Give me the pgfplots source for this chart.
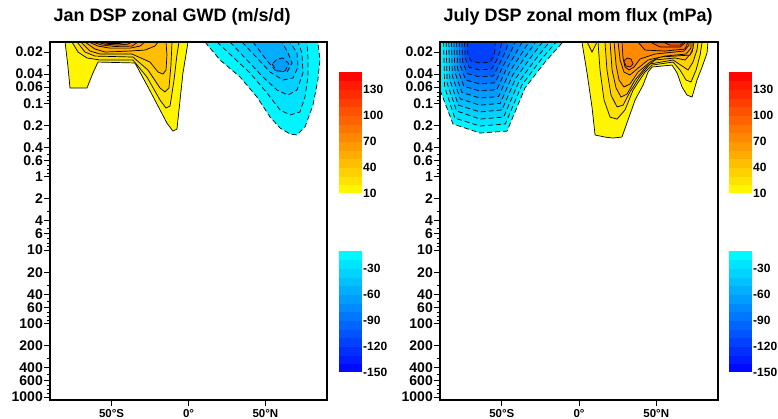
\documentclass[border=0pt]{standalone}
\usepackage{fontspec}
\setmainfont{Liberation Sans}
\usepackage{pgfplots}
\pgfplotsset{compat=1.18}

\tikzset{
  poscont/.style={draw=black, line width=0.7pt},
  negcont/.style={draw=black, line width=0.7pt, dash pattern=on 5pt off 3pt},
}

\begin{document}
\begin{tikzpicture}
\path[use as bounding box] (0pt,0pt) rectangle (778pt,419pt);

%% ---------------- January GWD ----------------
\begin{axis}[at={(50pt,19pt)}, anchor=south west,
    scale only axis, width=277pt, height=358pt,
    xmin=-90, xmax=90,
    ymode=log, ymin=0.0146, ymax=1100, y dir=reverse,
    xtick={-50,0,50}, xticklabels={50°S,0°,50°N},
    ytick={0.02,0.04,0.06,0.1,0.2,0.4,0.6,1,2,4,6,10,20,40,60,100,200,400,600,1000},
    yticklabels={0.02,0.04,0.06,0.1,0.2,0.4,0.6,1,2,4,6,10,20,40,60,100,200,400,600,1000},
    minor ytick={0.03,0.05,0.07,0.08,0.09,0.3,0.5,0.7,0.8,0.9,3,5,7,8,9,30,50,70,80,90,300,500,700,800,900},
    tick align=outside, tick pos=left,
    major tick length=6pt, minor tick length=3.5pt,
    tick style={black, line width=0.9pt},
    axis line style={line width=1.2pt},
    axis on top,
    xticklabel style={font=\bfseries\fontsize{11.5}{11.5}\selectfont},
    yticklabel style={font=\bfseries\fontsize{14}{14}\selectfont, inner sep=1pt},
    title style={at={(0,1)}, anchor=base west, yshift=14pt,
                 font=\bfseries\fontsize{18}{18}\selectfont},
    title={Jan DSP zonal GWD (m/s/d)}]

  % westward drag (dashed)
  \addplot[negcont, fill=blue!4!cyan] coordinates {(10.7,0.0146)(20.5,0.0257)(33.5,0.0438)(44.5,0.0821)(53.0,0.154)(59.5,0.217)(66.0,0.262)(70.5,0.270)(75.7,0.210)(80.9,0.106)(84.1,0.0481)(85.4,0.0257)(84.1,0.0146)} -- cycle;
  \addplot[negcont, fill=blue!11!cyan] coordinates {(18.5,0.0146)(28.9,0.0234)(40.0,0.0386)(51.0,0.0724)(59.5,0.123)(66.0,0.144)(72.4,0.131)(75.7,0.0821)(77.6,0.0438)(77.6,0.0234)(77.0,0.0146)} -- cycle;
  \addplot[negcont, fill=blue!18!cyan] coordinates {(27.0,0.0146)(38.0,0.0257)(48.4,0.0438)(57.5,0.0659)(64.7,0.0771)(70.5,0.0659)(74.4,0.0386)(73.7,0.0206)(71.2,0.0146)} -- cycle;
  \addplot[negcont, fill=blue!25!cyan] coordinates {(34.8,0.0146)(44.5,0.0241)(53.0,0.0375)(61.4,0.0481)(67.9,0.0452)(71.2,0.0320)(70.5,0.0206)(66.0,0.0146)} -- cycle;
  \addplot[negcont, fill=blue!32!cyan] coordinates {(41.9,0.0146)(49.7,0.0241)(56.2,0.0352)(64.0,0.0375)(67.3,0.0282)(64.7,0.0206)(60.8,0.0146)} -- cycle;
  \addplot[negcont, fill=blue!39!cyan] coordinates {(54.3,0.0291)(57.5,0.0363)(62.7,0.0363)(65.3,0.0291)(61.4,0.0241)(57.5,0.0249)} -- cycle;

  % eastward drag (solid)
  \addplot[poscont, fill=red!4!yellow] coordinates {(-80.2,0.0146)(-78.3,0.0320)(-77.0,0.0619)(-66.0,0.0619)(-62.1,0.0386)(-58.8,0.0274)(-34.8,0.0282)(-26.3,0.0599)(-14.0,0.186)(-10.1,0.239)(-7.5,0.224)(-5.5,0.0902)(-3.6,0.0386)(-0.3,0.0146)} -- cycle;
  \addplot[poscont, fill=red!11!yellow] coordinates {(-75.7,0.0146)(-71.8,0.0200)(-66.0,0.0241)(-57.5,0.0257)(-36.1,0.0257)(-27.0,0.0438)(-18.5,0.0902)(-14.6,0.116)(-12.0,0.109)(-9.4,0.0481)(-7.5,0.0220)(-6.2,0.0146)} -- cycle;
  \addplot[poscont, fill=red!18!yellow] coordinates {(-72.4,0.0146)(-67.3,0.0200)(-60.8,0.0227)(-36.1,0.0234)(-26.3,0.0352)(-18.5,0.0619)(-15.3,0.0701)(-12.7,0.0619)(-11.4,0.0301)(-10.7,0.0146)} -- cycle;
  \addplot[poscont, fill=red!25!yellow] coordinates {(-69.9,0.0146)(-64.0,0.0194)(-57.5,0.0213)(-36.7,0.0213)(-25.0,0.0274)(-19.8,0.0375)(-16.6,0.0399)(-14.6,0.0352)(-14.0,0.0220)(-14.6,0.0146)} -- cycle;
  \addplot[poscont, fill=red!32!yellow] coordinates {(-67.3,0.0146)(-60.8,0.0182)(-54.3,0.0200)(-38.0,0.0194)(-28.3,0.0188)(-21.8,0.0166)(-19.8,0.0146)} -- cycle;
  \addplot[poscont, fill=red!39!yellow] coordinates {(-64.7,0.0146)(-58.8,0.0166)(-51.0,0.0177)(-38.0,0.0177)(-31.5,0.0166)(-28.3,0.0146)} -- cycle;
  \addplot[poscont, fill=red!46!yellow] coordinates {(-62.7,0.0146)(-56.2,0.0161)(-47.8,0.0168)(-36.7,0.0166)(-32.8,0.0146)} -- cycle;
  \addplot[poscont, fill=red!54!yellow] coordinates {(-60.1,0.0146)(-54.3,0.0156)(-45.8,0.0161)(-39.3,0.0156)(-36.7,0.0146)} -- cycle;
  \addplot[poscont, fill=red!61!yellow] coordinates {(-57.5,0.0146)(-52.3,0.0153)(-44.5,0.0153)(-40.6,0.0146)} -- cycle;
\end{axis}

%% ---------------- July momentum flux ----------------
\begin{axis}[at={(440pt,19pt)}, anchor=south west,
    scale only axis, width=278pt, height=358pt,
    xmin=-90, xmax=90,
    ymode=log, ymin=0.0146, ymax=1100, y dir=reverse,
    xtick={-50,0,50}, xticklabels={50°S,0°,50°N},
    ytick={0.02,0.04,0.06,0.1,0.2,0.4,0.6,1,2,4,6,10,20,40,60,100,200,400,600,1000},
    yticklabels={0.02,0.04,0.06,0.1,0.2,0.4,0.6,1,2,4,6,10,20,40,60,100,200,400,600,1000},
    minor ytick={0.03,0.05,0.07,0.08,0.09,0.3,0.5,0.7,0.8,0.9,3,5,7,8,9,30,50,70,80,90,300,500,700,800,900},
    tick align=outside, tick pos=left,
    major tick length=6pt, minor tick length=3.5pt,
    tick style={black, line width=0.9pt},
    axis line style={line width=1.2pt},
    axis on top,
    xticklabel style={font=\bfseries\fontsize{11.5}{11.5}\selectfont},
    yticklabel style={font=\bfseries\fontsize{14}{14}\selectfont, inner sep=1pt},
    title style={at={(0,1)}, anchor=base west, yshift=14pt,
                 font=\bfseries\fontsize{18}{18}\selectfont},
    title={July DSP zonal mom flux (mPa)}]

  % westward flux (dashed)
  \addplot[negcont, fill=blue!4!cyan] coordinates {(-90,0.0146)(-90,0.0659)(-81.6,0.191)(-64.1,0.254)(-46.6,0.239)(-35.0,0.0619)(-22.0,0.0274)(-10.4,0.0146)} -- cycle;
  \addplot[negcont, fill=blue!11!cyan] coordinates {(-87.7,0.0146)(-87.0,0.0599)(-80.4,0.159)(-64.1,0.204)(-47.7,0.191)(-37.0,0.0563)(-25.3,0.0265)(-14.8,0.0146)} -- cycle;
  \addplot[negcont, fill=blue!18!cyan] coordinates {(-86.0,0.0146)(-85.4,0.0529)(-79.3,0.127)(-64.1,0.164)(-48.8,0.154)(-39.0,0.0512)(-28.5,0.0257)(-19.2,0.0146)} -- cycle;
  \addplot[negcont, fill=blue!25!cyan] coordinates {(-84.3,0.0146)(-83.7,0.0473)(-78.1,0.106)(-64.1,0.131)(-49.9,0.123)(-41.0,0.0458)(-31.7,0.0244)(-23.6,0.0146)} -- cycle;
  \addplot[negcont, fill=blue!32!cyan] coordinates {(-82.6,0.0146)(-82.0,0.0425)(-76.9,0.0869)(-64.1,0.106)(-51.0,0.100)(-43.0,0.0414)(-35.0,0.0235)(-28.0,0.0146)} -- cycle;
  \addplot[negcont, fill=blue!39!cyan] coordinates {(-81.0,0.0146)(-80.3,0.0380)(-75.8,0.0712)(-64.1,0.0847)(-52.1,0.0808)(-45.0,0.0375)(-38.2,0.0227)(-32.4,0.0146)} -- cycle;
  \addplot[negcont, fill=blue!46!cyan] coordinates {(-79.3,0.0146)(-78.6,0.0341)(-74.6,0.0585)(-64.1,0.0680)(-53.2,0.0651)(-47.0,0.0339)(-41.5,0.0219)(-36.8,0.0146)} -- cycle;
  \addplot[negcont, fill=blue!54!cyan] coordinates {(-77.6,0.0146)(-76.9,0.0305)(-73.4,0.0480)(-64.1,0.0546)(-54.3,0.0524)(-49.0,0.0306)(-44.7,0.0210)(-41.2,0.0146)} -- cycle;
  \addplot[negcont, fill=blue!61!cyan] coordinates {(-75.9,0.0146)(-75.3,0.0274)(-72.3,0.0394)(-64.1,0.0438)(-55.4,0.0422)(-51.0,0.0277)(-47.9,0.0203)(-45.6,0.0146)} -- cycle;
  \addplot[negcont, fill=blue!68!cyan] coordinates {(-74.2,0.0146)(-73.6,0.0245)(-71.1,0.0323)(-64.1,0.0352)(-56.5,0.0340)(-53.0,0.0251)(-51.2,0.0195)(-50.0,0.0146)} -- cycle;
  \addplot[negcont, fill=blue!75!cyan] coordinates {(-72.5,0.0146)(-71.9,0.0220)(-69.9,0.0265)(-64.1,0.0282)(-57.6,0.0274)(-55.1,0.0227)(-54.4,0.0188)(-54.4,0.0146)} -- cycle;

  % eastward flux (solid)
  \addplot[poscont, fill=red!4!yellow] coordinates {(1.9,0.0146)(5.2,0.0386)(8.4,0.112)(10.4,0.270)(16.8,0.288)(22.0,0.297)(27.8,0.288)(31.7,0.169)(36.3,0.0902)(41.5,0.0563)(44.7,0.0375)(47.3,0.0320)(60.2,0.0301)(63.5,0.0386)(66.7,0.0599)(69.9,0.0771)(73.2,0.0821)(76.4,0.0481)(79.7,0.0320)(82.9,0.0206)(83.5,0.0146)} -- cycle;
  \addplot[poscont, fill=red!11!yellow] coordinates {(5.2,0.0146)(8.4,0.0200)(11.7,0.0146)} -- cycle;
  \addplot[poscont, fill=red!11!yellow] coordinates {(12.3,0.0146)(13.6,0.0352)(16.2,0.0902)(20.1,0.154)(24.6,0.164)(29.8,0.123)(35.0,0.0659)(42.7,0.0375)(47.3,0.0301)(60.9,0.0274)(65.4,0.0352)(69.3,0.0481)(72.5,0.0512)(75.8,0.0352)(78.4,0.0220)(79.7,0.0146)} -- cycle;
  \addplot[poscont, fill=red!18!yellow] coordinates {(16.8,0.0146)(18.1,0.0352)(20.7,0.0771)(24.6,0.112)(28.5,0.106)(33.0,0.0701)(39.5,0.0425)(46.0,0.0291)(60.9,0.0257)(66.7,0.0310)(70.6,0.0352)(73.8,0.0274)(76.4,0.0188)(77.1,0.0146)} -- cycle;
  \addplot[poscont, fill=red!25!yellow] coordinates {(20.1,0.0146)(21.4,0.0352)(24.0,0.0619)(27.2,0.0821)(31.1,0.0747)(36.3,0.0481)(42.7,0.0330)(49.2,0.0257)(62.2,0.0241)(68.7,0.0257)(73.2,0.0200)(74.5,0.0146)} -- cycle;
  \addplot[poscont, fill=red!32!yellow] coordinates {(22.7,0.0146)(24.0,0.0301)(25.9,0.0481)(29.1,0.0599)(33.0,0.0546)(38.2,0.0375)(46.0,0.0274)(52.5,0.0234)(71.9,0.0220)(73.8,0.0177)(73.8,0.0146)} -- cycle;
  \addplot[poscont, fill=red!39!yellow] coordinates {(25.3,0.0146)(26.6,0.0257)(29.1,0.0375)(33.0,0.0411)(37.6,0.0341)(44.7,0.0257)(55.7,0.0227)(69.3,0.0213)(72.5,0.0177)(72.5,0.0146)} -- cycle;
  \addplot[poscont, fill=red!46!yellow] coordinates {(27.8,0.0146)(28.5,0.0241)(29.8,0.0320)(32.4,0.0352)(35.6,0.0320)(39.5,0.0249)(49.2,0.0213)(68.0,0.0194)(71.2,0.0161)(71.2,0.0146)} -- cycle;
  \addplot[poscont, fill=red!54!yellow] coordinates {(29.1,0.0265)(30.4,0.0310)(33.0,0.0320)(35.0,0.0291)(33.7,0.0249)(31.1,0.0241)} -- cycle;
  \addplot[poscont, fill=red!54!yellow] coordinates {(38.2,0.0146)(42.7,0.0188)(55.7,0.0194)(68.7,0.0182)(70.6,0.0146)} -- cycle;
  \addplot[poscont, fill=red!61!yellow] coordinates {(46.0,0.0146)(52.5,0.0171)(65.4,0.0171)(69.3,0.0146)} -- cycle;
  \addplot[poscont, fill=red!68!yellow] coordinates {(54.4,0.0146)(58.9,0.0161)(65.4,0.0161)(68.0,0.0146)} -- cycle;
\end{axis}

%% ---------------- colour bars ----------------
\begin{axis}[at={(330.5pt,226pt)}, anchor=south west, scale only axis,
    width=23pt, height=121pt, hide axis, xmin=0, xmax=1, ymin=0, ymax=1,
    point meta min=10, point meta max=150,
    colormap={warm}{rgb255=(255,255,0) rgb255=(255,0,0)},
    colorbar sampled,
    colorbar style={at={(parent axis.south west)}, anchor=south west,
      scale only axis, width=23pt, height=121pt, samples=15,
      major tick length=0pt, axis line style={draw=none},
      ytick={10,40,70,100,130}, yticklabels={10,40,70,100,130},
      yticklabel style={font=\bfseries\fontsize{12}{12}\selectfont, inner sep=1pt}}]
\end{axis}
\begin{axis}[at={(330.5pt,47pt)}, anchor=south west, scale only axis,
    width=23pt, height=121pt, hide axis, xmin=0, xmax=1, ymin=0, ymax=1,
    point meta min=-150, point meta max=-10,
    colormap={cold}{rgb255=(0,0,255) rgb255=(0,255,255)},
    colorbar sampled,
    colorbar style={at={(parent axis.south west)}, anchor=south west,
      scale only axis, width=23pt, height=121pt, samples=15,
      major tick length=0pt, axis line style={draw=none},
      ytick={-150,-120,-90,-60,-30}, yticklabels={-150,-120,-90,-60,-30},
      yticklabel style={font=\bfseries\fontsize{12}{12}\selectfont, inner sep=1pt}}]
\end{axis}
\begin{axis}[at={(720.5pt,226pt)}, anchor=south west, scale only axis,
    width=23pt, height=121pt, hide axis, xmin=0, xmax=1, ymin=0, ymax=1,
    point meta min=10, point meta max=150,
    colormap={warm}{rgb255=(255,255,0) rgb255=(255,0,0)},
    colorbar sampled,
    colorbar style={at={(parent axis.south west)}, anchor=south west,
      scale only axis, width=23pt, height=121pt, samples=15,
      major tick length=0pt, axis line style={draw=none},
      ytick={10,40,70,100,130}, yticklabels={10,40,70,100,130},
      yticklabel style={font=\bfseries\fontsize{12}{12}\selectfont, inner sep=1pt}}]
\end{axis}
\begin{axis}[at={(720.5pt,47pt)}, anchor=south west, scale only axis,
    width=23pt, height=121pt, hide axis, xmin=0, xmax=1, ymin=0, ymax=1,
    point meta min=-150, point meta max=-10,
    colormap={cold}{rgb255=(0,0,255) rgb255=(0,255,255)},
    colorbar sampled,
    colorbar style={at={(parent axis.south west)}, anchor=south west,
      scale only axis, width=23pt, height=121pt, samples=15,
      major tick length=0pt, axis line style={draw=none},
      ytick={-150,-120,-90,-60,-30}, yticklabels={-150,-120,-90,-60,-30},
      yticklabel style={font=\bfseries\fontsize{12}{12}\selectfont, inner sep=1pt}}]
\end{axis}
\end{tikzpicture}
\end{document}
